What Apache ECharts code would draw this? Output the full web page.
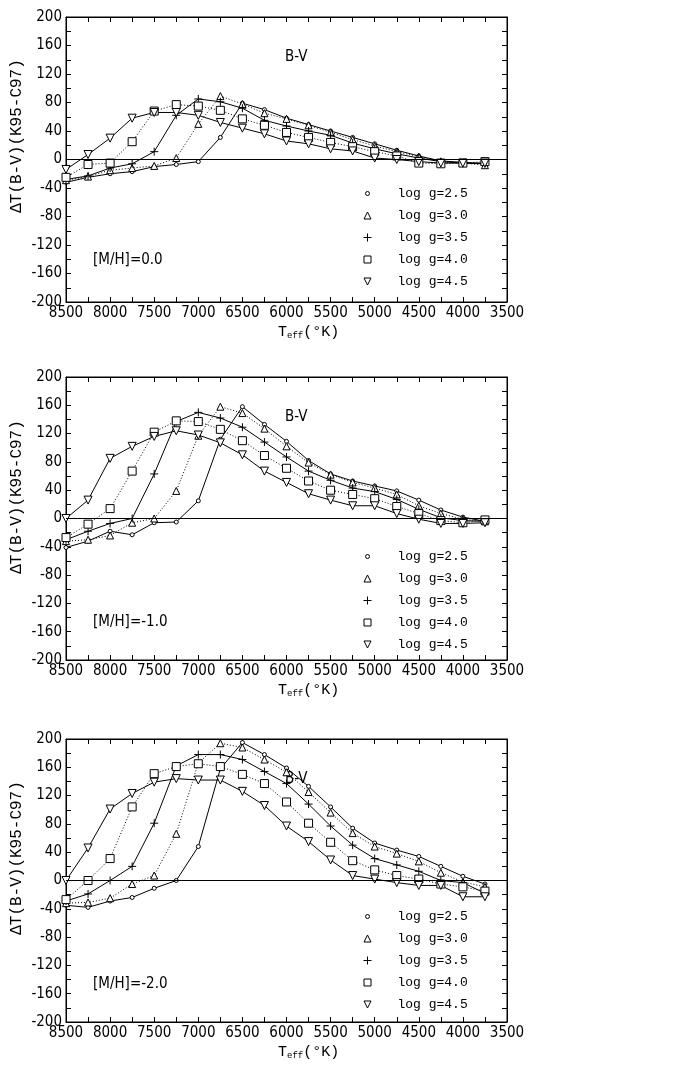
<!DOCTYPE html>
<html>
<head>
<meta charset="utf-8">
<title>dT(B-V) K95-C97</title>
<script src="https://cdn.jsdelivr.net/npm/echarts@6/dist/echarts.min.js"></script>
<style>
  html, body { margin: 0; padding: 0; background: #fff; }
  #chart { width: 675px; height: 1067px; }
</style>
</head>
<body>
<div id="chart"></div>
<script>
// model temperatures (x)
var teff = [8500, 8250, 8000, 7750, 7500, 7250, 7000, 6750, 6500, 6250, 6000, 5750, 5500, 5250, 5000, 4750, 4500, 4250, 4000, 3750];

var gravityNames = ['log g=2.5', 'log g=3.0', 'log g=3.5', 'log g=4.0', 'log g=4.5'];
var metalLabels = ['[M/H]=0.0', '[M/H]=-1.0', '[M/H]=-2.0'];
var xTickLabels = [8500, 8000, 7500, 7000, 6500, 6000, 5500, 5000, 4500, 4000, 3500];
var yTickLabels = [200, 160, 120, 80, 40, 0, -40, -80, -120, -160, -200];

// [M/H] = 0.0
var m00_g25 = [-32, -25, -20, -17, -10, -7, -3, 31, 79, 70, 58, 49, 40, 31, 22, 13, 5, -2, -4, -6];
var m00_g30 = [-29, -24, -15, -12, -9, 2, 50, 89, 78, 65, 57, 48, 38, 28, 19, 11, 4, -3, -5, -8];
var m00_g35 = [-28, -23, -12, -6, 11, 62, 85, 81, 72, 55, 47, 40, 34, 23, 15, 8, 2, -3, -5, -6];
var m00_g40 = [-25, -7, -5, 25, 68, 77, 75, 69, 57, 48, 38, 31, 24, 18, 11, 5, -5, -6, -5, -3];
var m00_g45 = [-14, 7, 30, 58, 66, 66, 62, 52, 44, 36, 26, 22, 15, 12, 2, 0, -3, -5, -5, -5];

// [M/H] = -1.0
var m10_g25 = [-41, -32, -18, -23, -6, -5, 25, 112, 158, 133, 109, 82, 63, 53, 46, 39, 26, 12, 2, -4];
var m10_g30 = [-32, -30, -24, -6, 0, 39, 117, 158, 149, 127, 102, 79, 62, 51, 43, 34, 18, 7, -1, -4];
var m10_g35 = [-30, -18, -7, 0, 63, 137, 150, 142, 129, 108, 87, 67, 54, 43, 38, 27, 13, 1, -3, -4];
var m10_g40 = [-27, -8, 14, 67, 122, 138, 137, 126, 110, 89, 71, 53, 40, 34, 28, 17, 7, -3, -6, -2];
var m10_g45 = [0, 26, 85, 102, 116, 124, 118, 107, 90, 67, 51, 35, 26, 18, 18, 7, -1, -7, -7, -6];

// [M/H] = -2.0
var m20_g25 = [-35, -38, -29, -24, -11, 0, 48, 158, 195, 178, 159, 133, 104, 74, 53, 43, 34, 20, 6, -5];
var m20_g30 = [-32, -31, -25, -5, 7, 66, 166, 194, 188, 171, 153, 125, 96, 67, 48, 38, 27, 11, -2, -9];
var m20_g35 = [-29, -19, 0, 20, 81, 162, 178, 178, 171, 154, 137, 108, 77, 50, 31, 22, 13, 0, -3, -18];
var m20_g40 = [-27, 0, 31, 104, 151, 161, 165, 161, 150, 137, 111, 81, 54, 28, 15, 7, 2, -5, -9, -15];
var m20_g45 = [0, 46, 101, 123, 139, 144, 142, 142, 126, 106, 77, 55, 29, 7, 2, -3, -7, -7, -23, -23];

var panels = [
    [m00_g25, m00_g30, m00_g35, m00_g40, m00_g45],
    [m10_g25, m10_g30, m10_g35, m10_g40, m10_g45],
    [m20_g25, m20_g30, m20_g35, m20_g40, m20_g45]
];

// layout of the three boxes
var gridTops = [17, 377, 739];
var gridHeights = [285, 283, 283];
var legendTops = [187, 550, 910];
var yNameCenters = [136, 497, 858];

var symbols = ['circle', 'triangle', 'path://M4,0L4,8M0,4L8,4', 'rect', 'path://M0,0L8,0L4,7Z'];
var symbolSizes = [4, 7, 8, 8, 8];
var lineTypes = ['solid', [1, 2], 'solid', [1, 2], 'solid'];
var legendIcons = [
    'path://M0,0M10,10M7,5A2,2,0,1,1,3,5A2,2,0,1,1,7,5Z',
    'path://M0,0M10,10M5,1.5L8.5,8.5L1.5,8.5Z',
    'path://M0,0M10,10M5,1L5,9M1,5L9,5',
    'path://M0,0M10,10M1.5,1.5L8.5,1.5L8.5,8.5L1.5,8.5Z',
    'path://M0,0M10,10M1.5,1.5L8.5,1.5L5,8.5Z'
];

var tickFont = 'DejaVu Sans Condensed, sans-serif';
var monoFont = 'Liberation Mono, DejaVu Sans Mono, monospace';

var grids = [], xAxes = [], yAxes = [], series = [], legends = [], titles = [], graphics = [];

for (let p = 0; p < 3; p++) {
    grids.push({
        left: 66, top: gridTops[p], width: 441, height: gridHeights[p],
        show: true, borderColor: '#000', borderWidth: 1, containLabel: false
    });

    // bottom + top x axes
    for (let k = 0; k < 2; k++) {
        xAxes.push({
            type: 'value', gridIndex: p, position: k == 0 ? 'bottom' : 'top',
            min: 3500, max: 8500, interval: 250, inverse: true,
            axisLine: {show: true, onZero: false, lineStyle: {color: '#000', width: 1}},
            axisTick: {show: true, inside: true, length: 5, lineStyle: {color: '#000'}},
            axisLabel: {
                show: k == 0, margin: 4, color: '#000', fontSize: 15, fontFamily: tickFont,
                formatter: function (v) { return xTickLabels.indexOf(v) >= 0 ? String(v) : ''; }
            },
            splitLine: {show: false}
        });
    }
    // left + right y axes
    for (let k = 0; k < 2; k++) {
        yAxes.push({
            type: 'value', gridIndex: p, position: k == 0 ? 'left' : 'right',
            min: -200, max: 200, interval: 20,
            axisLine: {show: true, onZero: false, lineStyle: {color: '#000', width: 1}},
            axisTick: {show: true, inside: true, length: 5, lineStyle: {color: '#000'}},
            axisLabel: {
                show: k == 0, margin: 4, color: '#000', fontSize: 15, fontFamily: tickFont,
                padding: [0, 0, 9, 0],
                formatter: function (v) { return yTickLabels.indexOf(v) >= 0 ? String(v) : ''; }
            },
            splitLine: {show: false}
        });
    }

    for (let g = 0; g < 5; g++) {
        let s = {
            name: gravityNames[g], type: 'line',
            xAxisIndex: p * 2, yAxisIndex: p * 2,
            data: panels[p][g].map(function (v, i) { return [teff[i], v]; }),
            symbol: symbols[g], symbolSize: symbolSizes[g], showAllSymbol: true,
            lineStyle: {color: '#000', width: 1, type: lineTypes[g]},
            itemStyle: {color: '#fff', borderColor: '#000', borderWidth: 1},
            emphasis: {disabled: true},
            z: 3
        };
        if (g == 0) {
            s.markLine = {
                silent: true, symbol: 'none', label: {show: false},
                lineStyle: {color: '#000', width: 1, type: 'solid'},
                data: [{yAxis: 0}]
            };
        }
        series.push(s);
    }

    legends.push({
        orient: 'vertical', left: 362, top: legendTops[p], padding: 0,
        itemWidth: 50, itemHeight: 10, itemGap: 9, selectedMode: false,
        data: gravityNames.map(function (n, i) {
            return {name: n, icon: legendIcons[i], itemStyle: {color: '#fff', borderColor: '#000', borderWidth: 1}};
        }),
        textStyle: {color: '#000', fontSize: 13, fontFamily: monoFont}
    });

    titles.push({
        text: 'B-V', left: 285, top: gridTops[p] + 33, padding: 0, z: 1,
        textStyle: {color: '#000', fontSize: 15, fontWeight: 'normal', fontFamily: tickFont}
    });
    titles.push({
        text: metalLabels[p], left: 93, top: gridTops[p] + 236 + (p == 0 ? 0 : 2), padding: 0,
        textStyle: {color: '#000', fontSize: 15, fontWeight: 'normal', fontFamily: tickFont}
    });
    titles.push({
        text: '{a|T}{b|eff}{a|(°K)}', left: 278, top: gridTops[p] + gridHeights[p] + 22, padding: 0,
        textStyle: {
            fontWeight: 'normal',
            rich: {
                a: {color: '#000', fontSize: 15, fontWeight: 'normal', fontFamily: monoFont},
                b: {color: '#000', fontSize: 9, fontWeight: 'normal', fontFamily: monoFont, padding: [7, 0, 0, 0]}
            }
        }
    });

    graphics.push({
        type: 'text', x: 17, y: yNameCenters[p], rotation: Math.PI / 2,
        style: {text: 'ΔT(B-V)(K95-C97)', fill: '#000', fontSize: 16, fontFamily: monoFont,
                align: 'center', verticalAlign: 'middle'}
    });
}

var myChart = echarts.init(document.getElementById('chart'), null, {renderer: 'canvas'});
myChart.setOption({
    animation: false,
    backgroundColor: '#fff',
    title: titles,
    legend: legends,
    grid: grids,
    xAxis: xAxes,
    yAxis: yAxes,
    graphic: graphics,
    series: series
});
</script>
</body>
</html>
